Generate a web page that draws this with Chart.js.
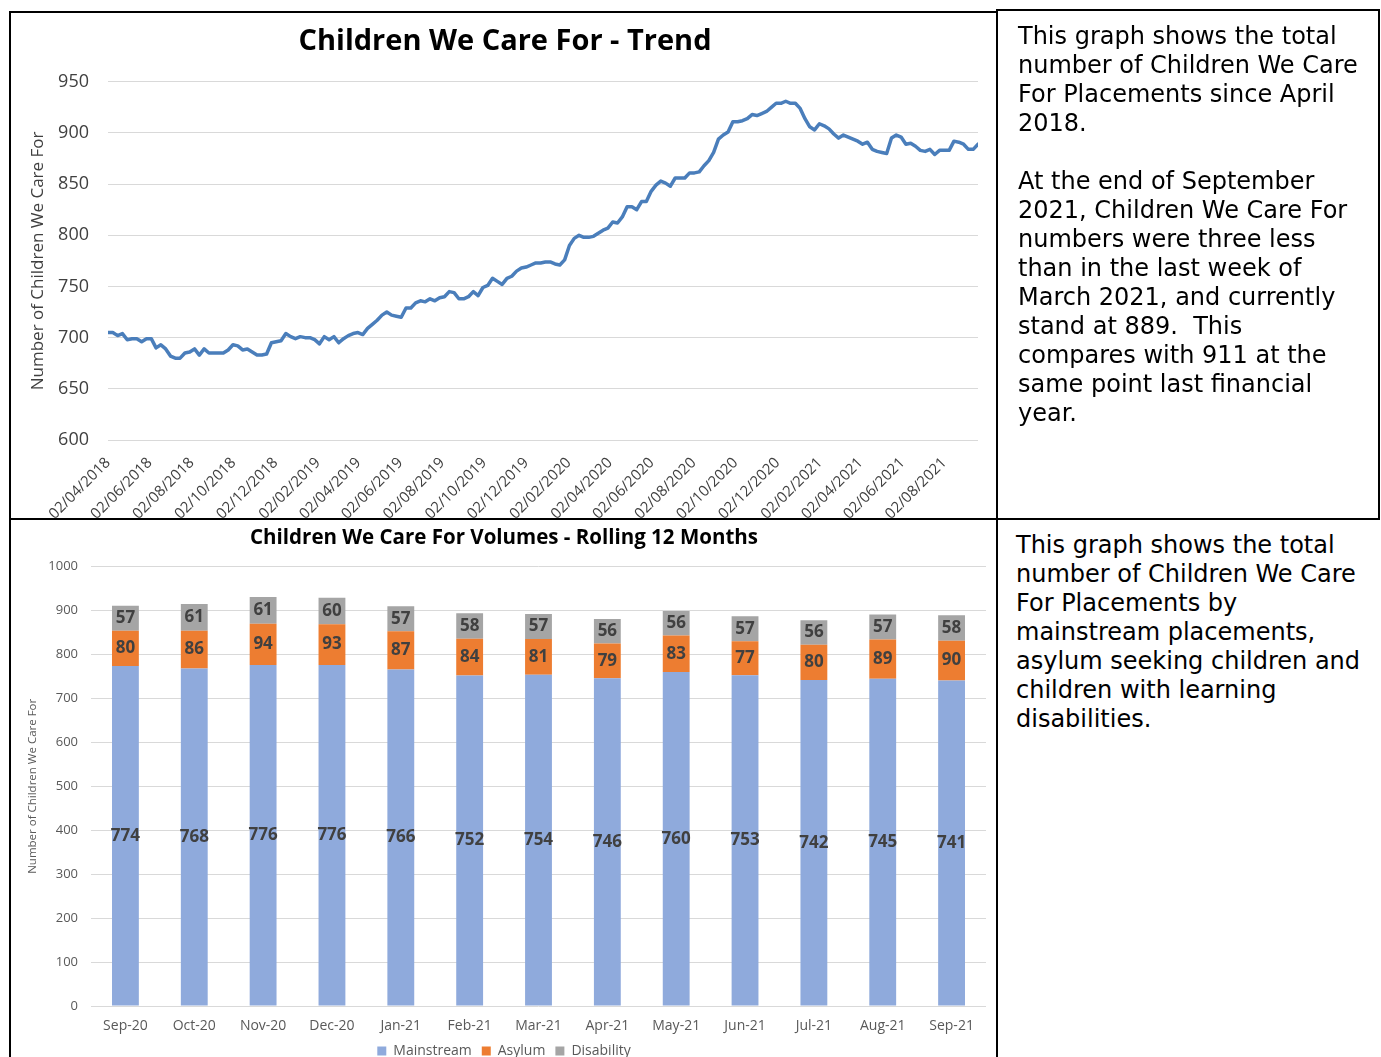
<!DOCTYPE html>
<html>
<head>
<meta charset="utf-8">
<title>Children We Care For</title>
<script src="https://cdn.jsdelivr.net/npm/chart.js"></script>
<style>
html, body { margin: 0; padding: 0; background: #fff; width: 1381px; height: 1057px; overflow: hidden; }
canvas { position: absolute; }
.box { position: absolute; box-sizing: border-box; border: 2px solid #000; }
.note { position: absolute; font-family: "DejaVu Sans", Verdana, sans-serif; font-size: 24px; line-height: 29px; color: #000; white-space: nowrap; }
</style>
</head>
<body>
<canvas id="trendChart" width="985" height="505" style="left:11px;top:13px;"></canvas>
<canvas id="volumeChart" width="985" height="549" style="left:11px;top:519px;"></canvas>

<div class="box" style="left:9px;top:11px;width:989px;height:509px;"></div>
<div class="box" style="left:996px;top:9px;width:384px;height:511px;"></div>
<div class="box" style="left:9px;top:518px;width:989px;height:560px;"></div>

<div class="note" style="left:1018px;top:22px;">This graph shows the total<br>number of Children We Care<br>For Placements since April<br>2018.<br><br>At the end of September<br>2021, Children We Care For<br>numbers were three less<br>than in the last week of<br>March 2021, and currently<br>stand at 889.&nbsp; This<br>compares with 911 at the<br>same point last financial<br>year.</div>

<div class="note" style="left:1016px;top:531px;">This graph shows the total<br>number of Children We Care<br>For Placements by<br>mainstream placements,<br>asylum seeking children and<br>children with learning<br>disabilities.</div>

<script>
// weekly totals, first week starting 02/04/2018
const trendStart = '02/04/2018';
const trendValues = [
  705, 705, 702, 704, 698, 699, 699, 696, 699, 699,
  690, 693, 689, 682, 680, 680, 685, 686, 689, 683,
  689, 685, 685, 685, 685, 688, 693, 692, 688, 689,
  686, 683, 683, 684, 695, 696, 697, 704, 701, 699,
  701, 700, 700, 698, 694, 701, 698, 701, 695, 699,
  702, 704, 705, 703, 709, 713, 717, 722, 725, 722,
  721, 720, 729, 729, 734, 736, 735, 738, 736, 739,
  740, 745, 744, 738, 738, 740, 745, 741, 749, 751,
  758, 755, 752, 758, 760, 765, 768, 769, 771, 773,
  773, 774, 774, 772, 771, 776, 790, 797, 800, 798,
  798, 799, 802, 805, 807, 813, 812, 818, 828, 828,
  825, 833, 833, 843, 849, 853, 851, 848, 856, 856,
  856, 861, 861, 862, 868, 873, 881, 894, 898, 901,
  911, 911, 912, 914, 918, 917, 919, 921, 925, 929,
  929, 931, 929, 929, 924, 914, 906, 903, 909, 907,
  904, 899, 895, 898, 896, 894, 892, 889, 891, 884,
  882, 881, 880, 895, 898, 896, 889, 890, 887, 883,
  882, 884, 879, 883, 883, 883, 892, 891, 889, 884,
  884, 889
];
const trendTickLabels = [
  '02/04/2018', '02/06/2018', '02/08/2018', '02/10/2018', '02/12/2018',
  '02/02/2019', '02/04/2019', '02/06/2019', '02/08/2019', '02/10/2019', '02/12/2019',
  '02/02/2020', '02/04/2020', '02/06/2020', '02/08/2020', '02/10/2020', '02/12/2020',
  '02/02/2021', '02/04/2021', '02/06/2021', '02/08/2021'
];

// rolling 12 months, stacked
const months = ['Sep-20', 'Oct-20', 'Nov-20', 'Dec-20', 'Jan-21', 'Feb-21', 'Mar-21',
                'Apr-21', 'May-21', 'Jun-21', 'Jul-21', 'Aug-21', 'Sep-21'];
const mainstream = [774, 768, 776, 776, 766, 752, 754, 746, 760, 753, 742, 745, 741];
const asylum     = [80, 86, 94, 93, 87, 84, 81, 79, 83, 77, 80, 89, 90];
const disability = [57, 61, 61, 60, 57, 58, 57, 56, 56, 57, 56, 57, 58];

Chart.defaults.font.family = "'Open Sans', sans-serif";

// dd/mm/yyyy -> days since the first week
function dayOffset(str) {
    const p = str.split('/').map(Number);
    const s = trendStart.split('/').map(Number);
    return Math.round((Date.UTC(p[2], p[1] - 1, p[0]) - Date.UTC(s[2], s[1] - 1, s[0])) / 86400000);
}
const tickDays = trendTickLabels.map(dayOffset);

new Chart(document.getElementById('trendChart'), {
    type: 'line',
    data: {
        datasets: [{
            label: 'Children We Care For',
            data: trendValues.map((v, i) => ({ x: i * 7, y: v })),
            borderColor: '#4a7ebb',
            borderWidth: 3.5,
            borderJoinStyle: 'round',
            borderCapStyle: 'round',
            pointRadius: 0,
            tension: 0,
            fill: false
        }]
    },
    options: {
        responsive: false,
        animation: false,
        events: [],
        layout: { padding: { left: 21, right: 18 } },
        plugins: {
            legend: { display: false },
            tooltip: { enabled: false },
            title: {
                display: true,
                text: 'Children We Care For - Trend',
                color: '#000',
                font: { size: 29, weight: 'bold' },
                padding: { top: 11, bottom: 23 }
            }
        },
        scales: {
            x: {
                type: 'linear',
                min: 0,
                max: (trendValues.length - 1) * 7,
                grid: { display: false },
                border: { display: false },
                afterBuildTicks: scale => { scale.ticks = tickDays.map(v => ({ value: v })); },
                afterFit: scale => { scale.height = 78; },
                ticks: {
                    autoSkip: false,
                    minRotation: 45,
                    maxRotation: 45,
                    padding: 6,
                    color: '#404040',
                    font: { size: 15 },
                    callback: (v, i) => trendTickLabels[i]
                }
            },
            y: {
                min: 600,
                max: 950,
                ticks: { stepSize: 50, padding: 19, color: '#404040', font: { size: 18 } },
                grid: { color: '#d9d9d9', drawTicks: false },
                border: { display: false },
                title: {
                    display: true,
                    text: 'Number of Children We Care For',
                    color: '#404040',
                    font: { size: 17 },
                    padding: { top: -4, bottom: 0 }
                },
                afterFit: scale => { scale.width = 76; }
            }
        }
    }
});

// value labels centred in each stacked segment
const barLabels = {
    id: 'barLabels',
    afterDatasetsDraw(chart) {
        const ctx = chart.ctx;
        ctx.save();
        ctx.font = "bold 17px 'Open Sans'";
        ctx.fillStyle = '#404040';
        ctx.textAlign = 'center';
        ctx.textBaseline = 'middle';
        chart.data.datasets.forEach((ds, di) => {
            chart.getDatasetMeta(di).data.forEach((bar, i) => {
                ctx.fillText(String(ds.data[i]), bar.x, (bar.y + bar.base) / 2);
            });
        });
        ctx.restore();
    }
};

new Chart(document.getElementById('volumeChart'), {
    type: 'bar',
    data: {
        labels: months,
        datasets: [
            { label: 'Mainstream', data: mainstream, backgroundColor: '#8faadc' },
            { label: 'Asylum', data: asylum, backgroundColor: '#ed7d31' },
            { label: 'Disability', data: disability, backgroundColor: '#a5a5a5' }
        ]
    },
    options: {
        responsive: false,
        animation: false,
        events: [],
        datasets: { bar: { categoryPercentage: 1, barPercentage: 0.39 } },
        layout: { padding: { left: 11, right: 10 } },
        plugins: {
            tooltip: { enabled: false },
            title: {
                display: true,
                text: 'Children We Care For Volumes - Rolling 12 Months',
                color: '#000',
                font: { size: 20.5, weight: 'bold' },
                padding: { top: 7, bottom: 16 }
            },
            legend: {
                position: 'bottom',
                labels: { boxWidth: 9, boxHeight: 9, padding: 10, color: '#595959', font: { size: 14 } }
            }
        },
        scales: {
            x: {
                stacked: true,
                grid: { display: false },
                border: { display: false },
                ticks: { color: '#595959', font: { size: 14 }, padding: 4 },
                afterFit: scale => { scale.height = 28; }
            },
            y: {
                stacked: true,
                min: 0,
                max: 1000,
                ticks: { stepSize: 100, padding: 13, color: '#595959', font: { size: 13 }, callback: v => String(v) },
                grid: { color: '#d9d9d9', drawTicks: false },
                border: { display: false },
                title: {
                    display: true,
                    text: 'Number of Children We Care For',
                    color: '#595959',
                    font: { size: 11.5 },
                    padding: { top: 4, bottom: 0 }
                },
                afterFit: scale => { scale.width = 69; }
            }
        }
    },
    plugins: [barLabels]
});
</script>
</body>
</html>
